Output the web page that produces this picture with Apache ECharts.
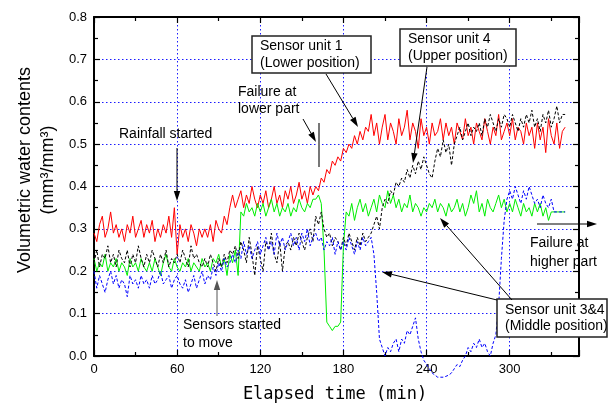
<!DOCTYPE html>
<html>
<head>
<meta charset="utf-8">
<script src="https://cdn.jsdelivr.net/npm/echarts@6/dist/echarts.min.js"></script>
<style>
  html, body { margin: 0; padding: 0; background: #fff; }
  #box { width: 616px; height: 407px; }
</style>
</head>
<body>
<div id="box"></div>
<script>
// readings every 2 min, from t = 0 to t = 340 min
const STEP = 2
const xTicks = [0, 60, 120, 180, 240, 300]
const yTicks = [0.0, 0.1, 0.2, 0.3, 0.4, 0.5, 0.6, 0.7, 0.8]

// Sensor unit 1 (lower position)
const unit1 = [
  0.29,0.27,0.31,0.33,0.28,0.30,0.34,0.29,0.31,0.28,
  0.30,0.27,0.31,0.29,0.33,0.28,0.30,0.32,0.28,0.31,
  0.29,0.32,0.27,0.30,0.28,0.31,0.29,0.33,0.28,0.35,
  0.24,0.31,0.28,0.30,0.27,0.31,0.29,0.26,0.30,0.28,
  0.30,0.28,0.31,0.27,0.32,0.30,0.29,0.33,0.31,0.35,
  0.38,0.35,0.37,0.39,0.35,0.38,0.36,0.40,0.37,0.35,
  0.38,0.36,0.39,0.35,0.37,0.40,0.36,0.38,0.35,0.39,
  0.37,0.40,0.36,0.38,0.41,0.37,0.39,0.36,0.40,0.38,
  0.40,0.39,0.42,0.41,0.44,0.43,0.46,0.45,0.47,0.46,
  0.49,0.48,0.50,0.49,0.52,0.50,0.53,0.51,0.54,0.53,
  0.57,0.52,0.55,0.50,0.54,0.57,0.51,0.55,0.53,0.50,
  0.56,0.52,0.54,0.58,0.51,0.55,0.53,0.49,0.56,0.52,
  0.54,0.50,0.55,0.52,0.53,0.56,0.51,0.55,0.52,0.54,
  0.50,0.55,0.53,0.51,0.56,0.52,0.54,0.50,0.55,0.53,
  0.51,0.56,0.53,0.50,0.54,0.52,0.57,0.51,0.53,0.55,
  0.52,0.56,0.51,0.54,0.53,0.50,0.55,0.52,0.54,0.49,
  0.55,0.51,0.54,0.48,0.56,0.52,0.50,0.55,0.49,0.53,
  0.54
]
// Sensor unit 4 (upper position)
const unit4 = [
  0.22,0.25,0.21,0.24,0.23,0.26,0.22,0.24,0.21,0.25,
  0.23,0.22,0.25,0.21,0.24,0.22,0.26,0.23,0.21,0.24,
  0.22,0.25,0.23,0.21,0.24,0.22,0.25,0.21,0.23,0.22,
  0.24,0.22,0.25,0.23,0.21,0.26,0.23,0.24,0.22,0.21,
  0.23,0.21,0.24,0.22,0.20,0.23,0.21,0.24,0.22,0.25,
  0.24,0.26,0.23,0.27,0.25,0.22,0.28,0.24,0.19,0.26,
  0.23,0.20,0.27,0.25,0.29,0.24,0.22,0.27,0.20,0.26,
  0.27,0.25,0.28,0.26,0.29,0.27,0.25,0.28,0.30,0.27,
  0.33,0.31,0.34,0.30,0.28,0.29,0.26,0.28,0.27,0.25,
  0.28,0.26,0.29,0.27,0.25,0.28,0.26,0.29,0.27,0.28,
  0.29,0.31,0.33,0.30,0.35,0.37,0.36,0.39,0.38,0.41,
  0.40,0.42,0.41,0.44,0.42,0.45,0.43,0.46,0.44,0.47,
  0.45,0.43,0.42,0.46,0.49,0.47,0.51,0.48,0.50,0.45,
  0.50,0.52,0.54,0.51,0.53,0.55,0.52,0.54,0.53,0.55,
  0.52,0.56,0.54,0.57,0.55,0.53,0.56,0.54,0.57,0.56,
  0.54,0.57,0.55,0.53,0.56,0.54,0.57,0.55,0.58,0.54,
  0.56,0.53,0.57,0.55,0.58,0.54,0.56,0.59,0.55,0.57,
  0.57
]
// Sensor unit 3 (middle position)
const unit3 = [
  0.23,0.20,0.22,0.21,0.24,0.20,0.22,0.21,0.23,0.20,
  0.22,0.21,0.19,0.23,0.21,0.22,0.20,0.23,0.21,0.20,
  0.22,0.20,0.23,0.21,0.19,0.22,0.24,0.21,0.20,0.23,
  0.21,0.20,0.22,0.21,0.23,0.20,0.22,0.21,0.20,0.23,
  0.21,0.22,0.20,0.23,0.22,0.24,0.21,0.23,0.19,0.24,
  0.22,0.25,0.19,0.34,0.33,0.36,0.34,0.35,0.33,0.36,
  0.34,0.36,0.33,0.35,0.37,0.34,0.36,0.33,0.35,0.34,
  0.36,0.33,0.35,0.34,0.37,0.35,0.34,0.36,0.35,0.37,
  0.37,0.38,0.36,0.25,0.08,0.07,0.06,0.07,0.07,0.08,
  0.26,0.34,0.33,0.36,0.32,0.35,0.37,0.34,0.36,0.33,
  0.35,0.37,0.34,0.38,0.36,0.35,0.39,0.36,0.38,0.35,
  0.37,0.34,0.36,0.35,0.38,0.34,0.36,0.35,0.33,0.35,
  0.34,0.36,0.35,0.37,0.34,0.36,0.35,0.33,0.36,0.34,
  0.35,0.37,0.34,0.36,0.33,0.35,0.38,0.36,0.39,0.34,
  0.36,0.33,0.37,0.35,0.34,0.36,0.38,0.35,0.37,0.34,
  0.36,0.34,0.37,0.35,0.33,0.36,0.34,0.35,0.33,0.36,
  0.34,0.36,0.33,0.35,0.32,0.34,0.34,0.34,0.34,0.34,
  0.34
]
// Sensor unit 3&4 (middle position), second probe
const unit34 = [
  0.20,0.16,0.19,0.17,0.15,0.18,0.20,0.17,0.19,0.16,
  0.18,0.17,0.14,0.19,0.17,0.18,0.16,0.19,0.17,0.18,
  0.16,0.19,0.17,0.18,0.20,0.17,0.18,0.19,0.16,0.18,
  0.19,0.17,0.16,0.18,0.15,0.17,0.19,0.16,0.18,0.20,
  0.17,0.19,0.18,0.21,0.19,0.22,0.20,0.23,0.21,0.22,
  0.24,0.22,0.25,0.23,0.27,0.24,0.26,0.23,0.25,0.27,
  0.24,0.26,0.28,0.25,0.27,0.24,0.29,0.26,0.28,0.25,
  0.27,0.29,0.26,0.28,0.25,0.29,0.27,0.30,0.26,0.28,
  0.29,0.27,0.28,0.25,0.27,0.26,0.28,0.24,0.27,0.25,
  0.27,0.25,0.28,0.26,0.24,0.27,0.25,0.28,0.26,0.27,
  0.28,0.24,0.15,0.04,0.02,0.00,0.02,0.01,0.03,0.04,
  0.01,0.04,0.03,0.06,0.05,0.07,0.09,0.04,0.01,-0.01,
  -0.02,-0.03,-0.04,-0.045,-0.05,-0.05,-0.05,-0.048,-0.045,-0.04,
  -0.03,-0.02,-0.025,-0.01,0.00,0.02,0.01,0.03,0.02,0.04,
  0.02,0.03,0.01,0.00,0.03,0.05,0.12,0.23,0.32,0.37,
  0.39,0.37,0.40,0.38,0.36,0.39,0.37,0.40,0.38,0.36,
  0.37,0.35,0.38,0.36,0.35,0.37,0.34,0.34,0.34,0.34,
  0.34
]

const toPairs = vals => vals.map((v, i) => [i * STEP, v])

const FONT = 'Arial, "Liberation Sans", sans-serif'

function arrow(x1, y1, x2, y2, color) {
  const a = Math.atan2(y2 - y1, x2 - x1)
  const L = 10, W = 3.2
  const bx = x2 - L * Math.cos(a), by = y2 - L * Math.sin(a)
  return [
    { type: 'line', z: 100, shape: { x1: x1, y1: y1, x2: bx, y2: by }, style: { stroke: color, lineWidth: 1 } },
    { type: 'polygon', z: 100, shape: { points: [[x2, y2], [bx + W * Math.sin(a), by - W * Math.cos(a)], [bx - W * Math.sin(a), by + W * Math.cos(a)]] }, style: { fill: color } }
  ]
}

function label(x, y, text, lh) {
  return { type: 'text', z: 100, x: x, y: y, style: { text: text, font: '14px ' + FONT, fill: '#000', textVerticalAlign: 'middle', lineHeight: lh || 17 } }
}

function box(x, y, w, h, text) {
  return [
    { type: 'rect', z: 99, shape: { x: x, y: y, width: w, height: h }, style: { fill: '#fff', stroke: '#222', lineWidth: 1.5 } },
    { type: 'text', z: 100, x: x + 8, y: y + h / 2, style: { text: text, font: '14px ' + FONT, fill: '#000', textVerticalAlign: 'middle', lineHeight: 16.5 } }
  ]
}

const chart = echarts.init(document.getElementById('box'))

const tickStyle = { inside: true, length: 6, lineStyle: { color: '#000', width: 1.2 } }
const minorStyle = { show: true, splitNumber: 2, length: 4, lineStyle: { color: '#000', width: 1.2 } }
const lineAx = { show: true, onZero: false, lineStyle: { color: '#000', width: 2 } }
const gridLine = { show: true, lineStyle: { color: '#1a1aff', type: [1.5, 2.5], width: 1 } }

const option = {
  animation: false,
  backgroundColor: '#fff',
  grid: { left: 94, right: 37, top: 17, bottom: 51, containLabel: false },
  xAxis: [
    {
      type: 'value', min: 0, max: 350, interval: 60, position: 'bottom',
      axisLine: lineAx, axisTick: tickStyle, minorTick: minorStyle,
      splitLine: gridLine, minorSplitLine: { show: false },
      axisLabel: { color: '#000', fontSize: 13, fontFamily: FONT, margin: 7, showMaxLabel: false,
        formatter: v => xTicks.includes(v) ? String(v) : '' }
    },
    {
      type: 'value', min: 0, max: 350, interval: 60, position: 'top',
      axisLine: lineAx, axisTick: tickStyle, minorTick: minorStyle,
      splitLine: { show: false }, axisLabel: { show: false }
    }
  ],
  yAxis: [
    {
      type: 'value', min: 0, max: 0.8, interval: 0.1, position: 'left',
      axisLine: lineAx, axisTick: tickStyle, minorTick: minorStyle,
      splitLine: gridLine,
      axisLabel: { color: '#000', fontSize: 13, fontFamily: FONT, margin: 7,
        formatter: v => yTicks.some(t => Math.abs(t - v) < 1e-6) ? v.toFixed(1) : '' }
    },
    {
      type: 'value', min: 0, max: 0.8, interval: 0.1, position: 'right',
      axisLine: lineAx, axisTick: tickStyle, minorTick: minorStyle,
      splitLine: { show: false }, axisLabel: { show: false }
    }
  ],
  series: [
    { name: 'Sensor unit 1', type: 'line', data: toPairs(unit1), showSymbol: false, symbol: 'none', clip: false,
      lineStyle: { color: '#ff0000', width: 1 } },
    { name: 'Sensor unit 3', type: 'line', data: toPairs(unit3), showSymbol: false, symbol: 'none', clip: false,
      lineStyle: { color: '#00ee00', width: 1 } },
    { name: 'Sensor unit 4', type: 'line', data: toPairs(unit4), showSymbol: false, symbol: 'none', clip: false,
      lineStyle: { color: '#000', width: 1, type: [3, 2] } },
    { name: 'Sensor unit 3&4', type: 'line', data: toPairs(unit34), showSymbol: false, symbol: 'none', clip: false,
      lineStyle: { color: '#0000ff', width: 1, type: [3, 2] } }
  ],
  graphic: [
    // axis titles
    { type: 'text', z: 100, x: 37, y: 170, rotation: Math.PI / 2,
      style: { text: 'Volumetric water contents\n(mm³/mm³)', font: '18px ' + FONT, fill: '#000',
        textAlign: 'center', textVerticalAlign: 'middle', lineHeight: 23 } },
    { type: 'text', z: 100, x: 335, y: 395,
      style: { text: 'Elapsed time (min)', font: '17px "DejaVu Sans Mono", monospace', fill: '#000',
        textAlign: 'center', textVerticalAlign: 'middle' } },

    // annotations
    label(119, 134, 'Rainfall started'),
    ...arrow(177, 148, 177, 201, '#000'),

    label(238, 100.5, 'Failure at\nlower part'),
    ...arrow(303, 119, 316, 142, '#000'),
    { type: 'line', z: 100, shape: { x1: 319, y1: 123, x2: 319, y2: 167 }, style: { stroke: '#777', lineWidth: 2 } },

    ...box(252, 36, 119, 37, 'Sensor unit 1\n(Lower position)'),
    ...arrow(326, 74, 358, 127, '#000'),

    ...box(400, 29, 116, 37, 'Sensor unit 4\n(Upper position)'),
    ...arrow(427, 67, 413, 163, '#000'),

    label(183, 334, 'Sensors started\nto move', 18),
    ...arrow(217, 316, 217, 280, '#555'),

    ...box(497, 299, 110, 38, 'Sensor unit 3&4\n(Middle position)'),
    ...arrow(497, 300, 382, 272, '#000'),
    ...arrow(512, 300, 440, 218, '#000'),

    label(530, 252.5, 'Failure at\nhigher part', 19),
    ...arrow(537, 224, 597, 224, '#000')
  ]
}

chart.setOption(option)
</script>
</body>
</html>
